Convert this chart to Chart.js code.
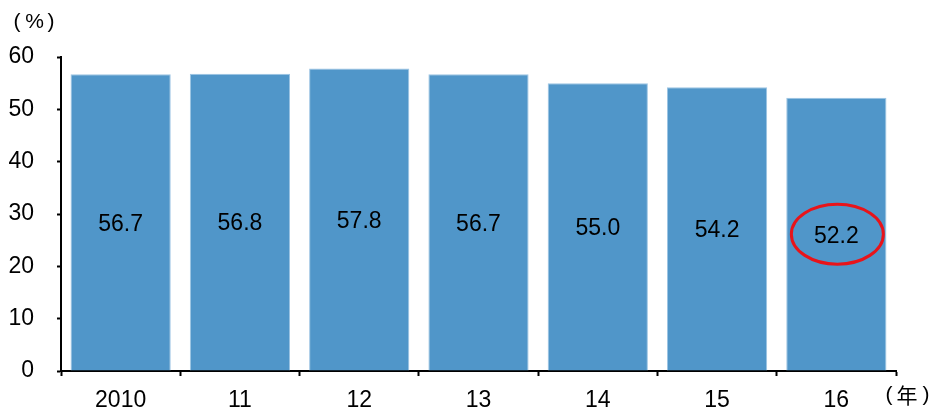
<!DOCTYPE html>
<html>
<head>
<meta charset="utf-8">
<script src="https://cdn.jsdelivr.net/npm/chart.js@4/dist/chart.umd.min.js"></script>
<style>
  html, body { margin: 0; padding: 0; background: #fff; }
  #wrap { width: 931px; height: 409px; }
</style>
</head>
<body>
<div id="wrap"><canvas id="chart"></canvas></div>
<script>
// data
const years = ["2010", "11", "12", "13", "14", "15", "16"];
const shares = [56.7, 56.8, 57.8, 56.7, 55.0, 54.2, 52.2];
const yTicks = [0, 10, 20, 30, 40, 50, 60];
const yUnit = ["（", "%", "）"];
const xUnit = ["（", "年", "）"];
const highlightIndex = 6;

const FONT = "'Liberation Sans', Arial, sans-serif";
const CJK = "'Noto Sans CJK JP', 'Liberation Sans', sans-serif";

// value labels in the middle of each bar, plus the red ring
const barLabels = {
  id: "barLabels",
  afterDatasetsDraw(chart) {
    const ctx = chart.ctx;
    const meta = chart.getDatasetMeta(0);
    ctx.save();
    ctx.font = "23px " + FONT;
    ctx.fillStyle = "#000";
    ctx.textAlign = "center";
    ctx.textBaseline = "middle";
    meta.data.forEach((bar, i) => {
      const midY = (bar.y + bar.base) / 2;
      ctx.fillText(shares[i].toFixed(1), bar.x, midY + 2);
      if (i === highlightIndex) {
        ctx.beginPath();
        ctx.ellipse(bar.x + 1, midY, 46, 30, 0, 0, Math.PI * 2);
        ctx.strokeStyle = "#e8141a";
        ctx.lineWidth = 3;
        ctx.stroke();
      }
    });
    ctx.restore();
  }
};

// unit captions, fullwidth brackets spaced like the original
function drawUnit(ctx, parts, xs, y) {
  parts.forEach((p, i) => {
    const cjk = p === "年";
    ctx.font = (cjk ? "21px " + CJK : "21px " + FONT);
    const s = p === "（" ? "(" : p === "）" ? ")" : p;
    ctx.fillText(s, xs[i], y);
  });
}

const units = {
  id: "units",
  afterDraw(chart) {
    const ctx = chart.ctx;
    const a = chart.chartArea;
    ctx.save();
    ctx.fillStyle = "#000";
    ctx.textAlign = "center";
    ctx.textBaseline = "middle";
    drawUnit(ctx, yUnit, [17, 34.5, 51], a.top - 35);
    drawUnit(ctx, xUnit, [889, 907, 926], a.bottom + 24);
    ctx.restore();
  }
};

new Chart(document.getElementById("chart"), {
  type: "bar",
  data: {
    labels: years,
    datasets: [{
      data: shares,
      backgroundColor: "#5096c9",
      borderColor: "#9cc4e3",
      borderWidth: 1,
      barPercentage: 1,
      categoryPercentage: 0.84
    }]
  },
  options: {
    responsive: true,
    maintainAspectRatio: false,
    animation: false,
    layout: { padding: { left: 0, right: 35, top: 57, bottom: 0 } },
    plugins: {
      legend: { display: false },
      tooltip: { enabled: false }
    },
    scales: {
      x: {
        offset: true,
        grid: {
          offset: true,
          drawOnChartArea: false,
          drawTicks: true,
          tickLength: 5,
          tickWidth: 2,
          color: "#000"
        },
        border: { display: true, color: "#000", width: 2 },
        ticks: { color: "#000", font: { family: FONT, size: 23 }, padding: 11, maxRotation: 0 },
        afterFit(scale) { scale.height = 38; }
      },
      y: {
        min: 0,
        max: 60,
        afterBuildTicks(scale) { scale.ticks = yTicks.map(v => ({ value: v })); },
        grid: {
          drawOnChartArea: false,
          drawTicks: true,
          tickLength: 4,
          tickWidth: 2,
          color: "#000"
        },
        border: { display: true, color: "#000", width: 2 },
        ticks: { color: "#000", font: { family: FONT, size: 23 }, padding: 23 },
        afterFit(scale) { scale.width = 61; }
      }
    }
  },
  plugins: [barLabels, units]
});
</script>
</body>
</html>
